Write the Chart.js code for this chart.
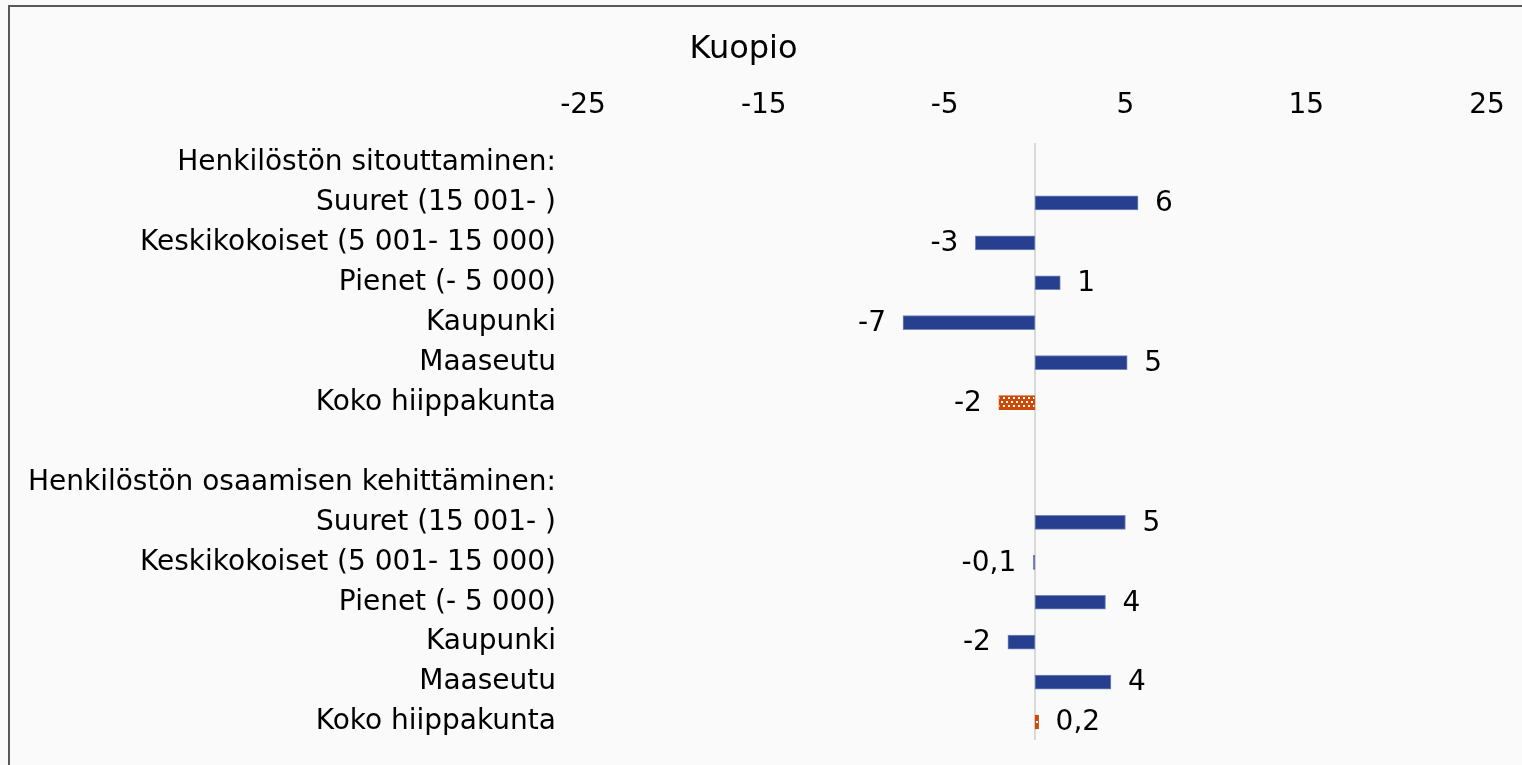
<!DOCTYPE html>
<html>
<head>
<meta charset="utf-8">
<script src="https://cdn.jsdelivr.net/npm/chart.js@4/dist/chart.umd.min.js"></script>
<style>
html,body{margin:0;padding:0;background:#fafafa;}
#wrap{position:relative;width:1522px;height:765px;}
</style>
</head>
<body>
<div id="wrap"><canvas id="c" width="1522" height="765"></canvas></div>
<script>
const chartTitle = 'Kuopio';
const categories = [
  'Henkilöstön sitouttaminen:',
  'Suuret (15 001- )',
  'Keskikokoiset (5 001- 15 000)',
  'Pienet (- 5 000)',
  'Kaupunki',
  'Maaseutu',
  'Koko hiippakunta',
  '',
  'Henkilöstön osaamisen kehittäminen:',
  'Suuret (15 001- )',
  'Keskikokoiset (5 001- 15 000)',
  'Pienet (- 5 000)',
  'Kaupunki',
  'Maaseutu',
  'Koko hiippakunta'
];
const values = [null, 5.7, -3.3, 1.4, -7.3, 5.1, -2.0, null, null, 5.0, -0.1, 3.9, -1.5, 4.2, 0.2];
const valueLabels = ['', '6', '-3', '1', '-7', '5', '-2', '', '', '5', '-0,1', '4', '-2', '4', '0,2'];
const xTicks = [-25, -15, -5, 5, 15, 25];
const totalCategory = 'Koko hiippakunta';

const FONT = "'DejaVu Sans', Verdana, sans-serif";
const BLUE = '#26408f';
const ORANGE = '#cc4a05';

// dotted pattern for the total bars
const pc = document.createElement('canvas');
pc.width = 10; pc.height = 8;
const px = pc.getContext('2d');
px.fillStyle = ORANGE; px.fillRect(0,0,10,8);
px.fillStyle = '#ffffff';
px.fillRect(1,1,2,2); px.fillRect(6,1,2,2);
px.fillRect(3,5,2,2); px.fillRect(8,5,2,2);
const ctx0 = document.getElementById('c').getContext('2d');
const pattern = ctx0.createPattern(pc, 'repeat');

const colors = categories.map(c => c === totalCategory ? pattern : BLUE);
const borders = categories.map(c => c === totalCategory ? ORANGE : '#7486bb');

const framePlugin = {
  id: 'frame',
  beforeDraw(chart) {
    const c = chart.ctx;
    c.save();
    c.fillStyle = '#fafafa';
    c.fillRect(0,0,chart.width,chart.height);
    c.strokeStyle = '#595959';
    c.lineWidth = 2;
    c.strokeRect(9,6,1540,800);
    c.restore();
  },
  beforeDatasetsDraw(chart) {
    const c = chart.ctx, xs = chart.scales.x, a = chart.chartArea;
    const x0 = Math.round(xs.getPixelForValue(0));
    c.save();
    c.strokeStyle = '#d9d9d9';
    c.lineWidth = 2;
    c.beginPath(); c.moveTo(x0, a.top); c.lineTo(x0, a.bottom - 2); c.stroke();
    c.restore();
  },
  afterDatasetsDraw(chart) {
    const c = chart.ctx;
    const meta = chart.getDatasetMeta(0);
    c.save();
    c.font = '28px ' + FONT;
    c.fillStyle = '#000';
    c.textBaseline = 'middle';
    meta.data.forEach((bar, i) => {
      const v = values[i];
      if (v === null || v === undefined) return;
      if (v >= 0) { c.textAlign = 'left'; c.fillText(valueLabels[i], bar.x + 17, bar.y + 1); }
      else { c.textAlign = 'right'; c.fillText(valueLabels[i], bar.x - 17, bar.y + 1); }
    });
    c.restore();
  }
};

new Chart(document.getElementById('c'), {
  type: 'bar',
  data: {
    labels: categories,
    datasets: [{
      data: values,
      backgroundColor: colors,
      borderColor: borders,
      borderWidth: 1,
      borderSkipped: false,
      barThickness: 14
    }]
  },
  options: {
    indexAxis: 'y',
    responsive: false,
    animation: false,
    layout: { padding: { left: 0, right: 35, top: 0, bottom: 23 } },
    plugins: {
      legend: { display: false },
      tooltip: { enabled: false },
      title: {
        display: true,
        text: chartTitle,
        color: '#000',
        font: { family: FONT, size: 32, weight: 'normal' },
        padding: { top: 30, bottom: 0 }
      }
    },
    scales: {
      x: {
        position: 'top',
        min: -25, max: 25,
        afterBuildTicks(scale) { scale.ticks = xTicks.map(v => ({ value: v })); },
        afterFit(scale) { scale.height = 74.6; scale.paddingLeft = 0; scale.paddingRight = 0; },
        grid: { display: false, drawTicks: false },
        border: { display: false },
        ticks: {
          color: '#000',
          font: { family: FONT, size: 28 },
          padding: 20,
          maxRotation: 0,
          autoSkip: false
        }
      },
      y: {
        afterFit(scale) { scale.width = 583; scale.paddingTop = 0; scale.paddingBottom = 0; },
        grid: { display: false, drawTicks: false },
        border: { display: false },
        ticks: {
          color: '#000',
          font: { family: FONT, size: 28 },
          padding: 27,
          autoSkip: false
        }
      }
    }
  },
  plugins: [framePlugin]
});
</script>
</body>
</html>
